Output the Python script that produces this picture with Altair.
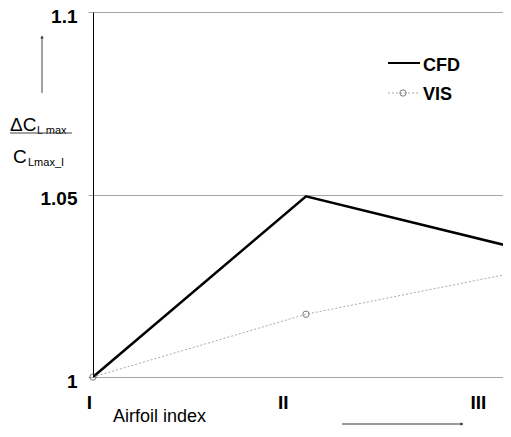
import altair as alt
import pandas as pd

# ---- data ----
airfoils = ["I", "II", "III"]
airfoil_pos = [0, 1, 2]
cfd = [1.0, 1.0495, 1.0352]
vis = [1.0, 1.0172, 1.0288]
label_pos = [-0.017, 0.893, 1.809]   # where the category labels sit along x
y_ticks = [1.0, 1.05, 1.1]

FONT = "Liberation Sans"
PLOT_W = 410
XMAX = PLOT_W / 213.0

cfd_df = pd.DataFrame({"pos": airfoil_pos, "val": cfd})
vis_df = pd.DataFrame({"pos": airfoil_pos, "val": vis})
vis_pts_df = pd.DataFrame({"pos": airfoil_pos[:2], "val": vis[:2]})
labels = pd.DataFrame({"pos": label_pos, "name": airfoils})

xs = alt.Scale(domain=[0, XMAX], nice=False, zero=False)
ys = alt.Scale(domain=[1.0, 1.1], nice=False, zero=False)

cfd_line = alt.Chart(cfd_df).mark_line(
    color="black", strokeWidth=2.5, clip=True
).encode(
    x=alt.X("pos:Q", scale=xs, axis=None),
    y=alt.Y("val:Q", scale=ys, axis=alt.Axis(
        values=y_ticks, format="~g", grid=True, gridColor="#a6a6a6",
        tickColor="#a6a6a6", tickSize=5, domainColor="black", domainWidth=1,
        labelFontSize=19, labelFontWeight="bold", labelColor="black",
        labelFont=FONT, labelPadding=11, labelOffset=4, title=None)),
)

vis_line = alt.Chart(vis_df).mark_line(
    color="#aaaaaa", strokeWidth=1, strokeDash=[2, 2], clip=True
).encode(x=alt.X("pos:Q", scale=xs, axis=None), y=alt.Y("val:Q", scale=ys))

vis_pts = alt.Chart(vis_pts_df).mark_point(
    shape="circle", filled=False, size=40, stroke="#444444", strokeWidth=1
).encode(x=alt.X("pos:Q", scale=xs, axis=None), y=alt.Y("val:Q", scale=ys))

xlab = alt.Chart(labels).mark_text(
    font=FONT, fontSize=19, fontWeight="bold", color="black",
    baseline="alphabetic", align="center"
).encode(x=alt.X("pos:Q", scale=xs, axis=None), y=alt.value(397),
         text="name:N")


def ann(text, x, y, size=18, weight="normal", align="left", color="black"):
    return alt.Chart(pd.DataFrame({"t": [text]})).mark_text(
        font=FONT, fontSize=size, fontWeight=weight, align=align,
        baseline="alphabetic", color=color
    ).encode(x=alt.value(x), y=alt.value(y), text="t:N")


def rule(x1, y1, x2, y2, color="#555555", width=1.0, dash=None):
    kw = dict(color=color, strokeWidth=width)
    if dash:
        kw["strokeDash"] = dash
    return alt.Chart(pd.DataFrame({"a": [0]})).mark_rule(**kw).encode(
        x=alt.value(x1), x2=alt.value(x2), y=alt.value(y1), y2=alt.value(y2))


def pt(x, y, shape, size=18, color="#333333", filled=True):
    df = pd.DataFrame({"a": [0]})
    if filled:
        m = alt.Chart(df).mark_point(shape=shape, filled=True, size=size,
                                     color=color, opacity=1)
    else:
        m = alt.Chart(df).mark_point(shape=shape, filled=False, size=size,
                                     stroke=color, strokeWidth=1)
    return m.encode(x=alt.value(x), y=alt.value(y))


# legend
leg = [
    rule(295, 51, 327, 51, color="black", width=2),
    ann("CFD", 330, 59, size=18, weight="bold"),
    rule(295, 81, 327, 81, color="#aaaaaa", width=1, dash=[2, 2]),
    pt(310, 81, "circle", size=40, color="#444444", filled=False),
    ann("VIS", 330, 88, size=18, weight="bold"),
]

# y title with arrow
ytitle = [
    rule(-51, 81, -51, 25, color="#444444", width=1),
    pt(-51, 25, "triangle-up", size=12),
    ann("ΔC", -83, 119, size=19),
    ann("L max", -56, 122, size=11),
    rule(-83, 121, -21, 121, color="#444444", width=1),
    ann("C", -80, 151, size=19),
    ann("Lmax_I", -65, 154, size=11),
]

# x title with arrow
xtitle = [
    ann("Airfoil index", 20, 410, size=18),
    rule(249, 412, 368, 412, color="#777777", width=1.5),
    pt(369, 412, "triangle-right", size=12),
]

chart = alt.layer(
    vis_line, cfd_line, vis_pts, xlab, *leg, *ytitle, *xtitle
).properties(
    width=PLOT_W, height=365,
    autosize=alt.AutoSizeParams(type="none"),
    padding={"left": 85, "top": 4, "right": 0, "bottom": 51},
).configure_view(stroke=None)

chart.save("out.html", embed_options={"renderer": "svg", "actions": False})
